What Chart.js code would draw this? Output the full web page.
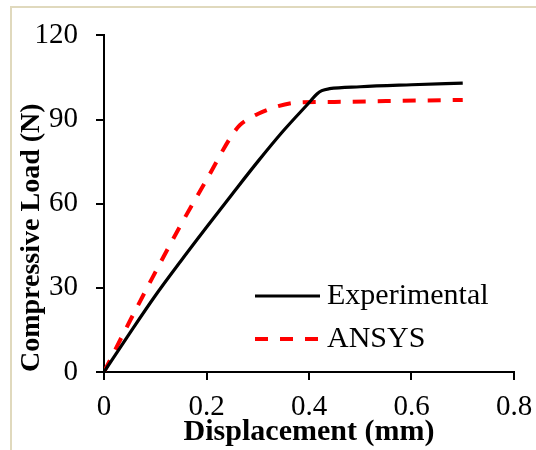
<!DOCTYPE html>
<html>
<head>
<meta charset="utf-8">
<script src="https://cdn.jsdelivr.net/npm/chart.js@4"></script>
<style>
    html, body { margin: 0; padding: 0; background: #fff; }
    #wrap { position: relative; width: 536px; height: 450px; overflow: hidden; }
    #frame {
        position: absolute; left: 10px; top: 6px; width: 600px; height: 500px;
        border-left: 2px solid #e0d9bd; border-top: 2px solid #e0d9bd;
        pointer-events: none;
    }
    canvas { position: absolute; left: 0; top: 0; }
</style>
</head>
<body>
<div id="wrap">
    <canvas id="loadChart" width="536" height="450"></canvas>
    <div id="frame"></div>
</div>
<script>
// Load-displacement curves (displacement in mm, load in N)
const expDisp = [0, 0.05, 0.1, 0.15, 0.2, 0.25, 0.3, 0.35, 0.4, 0.415, 0.425, 0.44, 0.5, 0.6, 0.7];
const expLoad = [0, 13.8, 27.2, 39.6, 51.6, 63.4, 75.0, 86.0, 96.0, 99.0, 100.3, 101.0, 101.7, 102.4, 103.0];

const ansysDisp = [0, 0.05, 0.1, 0.15, 0.2, 0.25, 0.265, 0.28, 0.3, 0.34, 0.38, 0.45, 0.55, 0.7];
const ansysLoad = [0, 18.0, 35.5, 52.5, 68.5, 84.5, 88.0, 90.0, 92.0, 94.8, 96.1, 96.3, 96.6, 97.0];

const seriesLabels = ['Experimental', 'ANSYS'];

const xTicks = [0, 0.2, 0.4, 0.6, 0.8];
const yTicks = [0, 30, 60, 90, 120];

const serif = "'Liberation Serif', 'Times New Roman', serif";

const toPoints = (xs, ys) => xs.map((x, i) => ({ x: x, y: ys[i] }));

// Legend drawn inside the plot area, lower right
const insideLegend = {
    id: 'insideLegend',
    afterDraw(chart, args, opts) {
        const ctx = chart.ctx;
        ctx.save();
        ctx.font = `${opts.fontSize}px ${serif}`;
        ctx.textBaseline = 'middle';
        ctx.fillStyle = '#000';
        chart.data.datasets.forEach((ds, i) => {
            const y = opts.y + i * opts.rowGap;
            ctx.beginPath();
            ctx.strokeStyle = ds.borderColor;
            ctx.lineWidth = ds.borderWidth;
            ctx.setLineDash(ds.borderDash || []);
            ctx.moveTo(opts.x, y);
            ctx.lineTo(opts.x + opts.sampleWidth, y);
            ctx.stroke();
            ctx.setLineDash([]);
            ctx.fillText(ds.label, opts.x + opts.sampleWidth + 7, y);
        });
        ctx.restore();
    }
};

const ctx = document.getElementById('loadChart').getContext('2d');

new Chart(ctx, {
    type: 'scatter',
    data: {
        datasets: [
            {
                label: seriesLabels[0],
                data: toPoints(expDisp, expLoad),
                showLine: true,
                borderColor: '#000000',
                borderWidth: 3.2,
                pointRadius: 0,
                cubicInterpolationMode: 'monotone'
            },
            {
                label: seriesLabels[1],
                data: toPoints(ansysDisp, ansysLoad),
                showLine: true,
                borderColor: '#ff0000',
                borderWidth: 4,
                borderDash: [13, 12],
                pointRadius: 0,
                cubicInterpolationMode: 'monotone'
            }
        ]
    },
    options: {
        responsive: false,
        animation: false,
        devicePixelRatio: 1,
        layout: {
            padding: { top: 34, left: 0, right: 0, bottom: 0 }
        },
        scales: {
            x: {
                type: 'linear',
                min: xTicks[0],
                max: xTicks[xTicks.length - 1],
                afterBuildTicks: (scale) => { scale.ticks = xTicks.map(v => ({ value: v })); },
                afterFit: (scale) => {
                    scale.height = 78;
                    scale.paddingRight = 22; // leave the plot running out to x = 514
                },
                ticks: {
                    color: '#000',
                    padding: 10,
                    maxRotation: 0,
                    font: { family: serif, size: 29 },
                    callback: (v) => String(+v.toFixed(1))
                },
                grid: {
                    drawOnChartArea: false,
                    drawTicks: true,
                    tickLength: 8,
                    color: '#000',
                    lineWidth: 2
                },
                border: { color: '#000', width: 2 },
                title: {
                    display: true,
                    text: 'Displacement (mm)',
                    color: '#000',
                    padding: { top: 0, bottom: 0 },
                    font: { family: serif, size: 30, weight: 'bold' }
                }
            },
            y: {
                type: 'linear',
                min: yTicks[0],
                max: yTicks[yTicks.length - 1],
                afterBuildTicks: (scale) => { scale.ticks = yTicks.map(v => ({ value: v })); },
                afterFit: (scale) => { scale.width = 104; },
                ticks: {
                    color: '#000',
                    padding: 18,
                    font: { family: serif, size: 29 }
                },
                grid: {
                    drawOnChartArea: false,
                    drawTicks: true,
                    tickLength: 8,
                    color: '#000',
                    lineWidth: 2
                },
                border: { color: '#000', width: 2 },
                title: {
                    display: true,
                    text: 'Compressive Load (N)',
                    align: 'start',
                    color: '#000',
                    padding: { top: 15, bottom: 0 },
                    font: { family: serif, size: 28, weight: 'bold' }
                }
            }
        },
        plugins: {
            legend: { display: false },
            tooltip: { enabled: false },
            insideLegend: { x: 255, y: 296, rowGap: 43, sampleWidth: 65, fontSize: 30 }
        }
    },
    plugins: [insideLegend]
});
</script>
</body>
</html>
